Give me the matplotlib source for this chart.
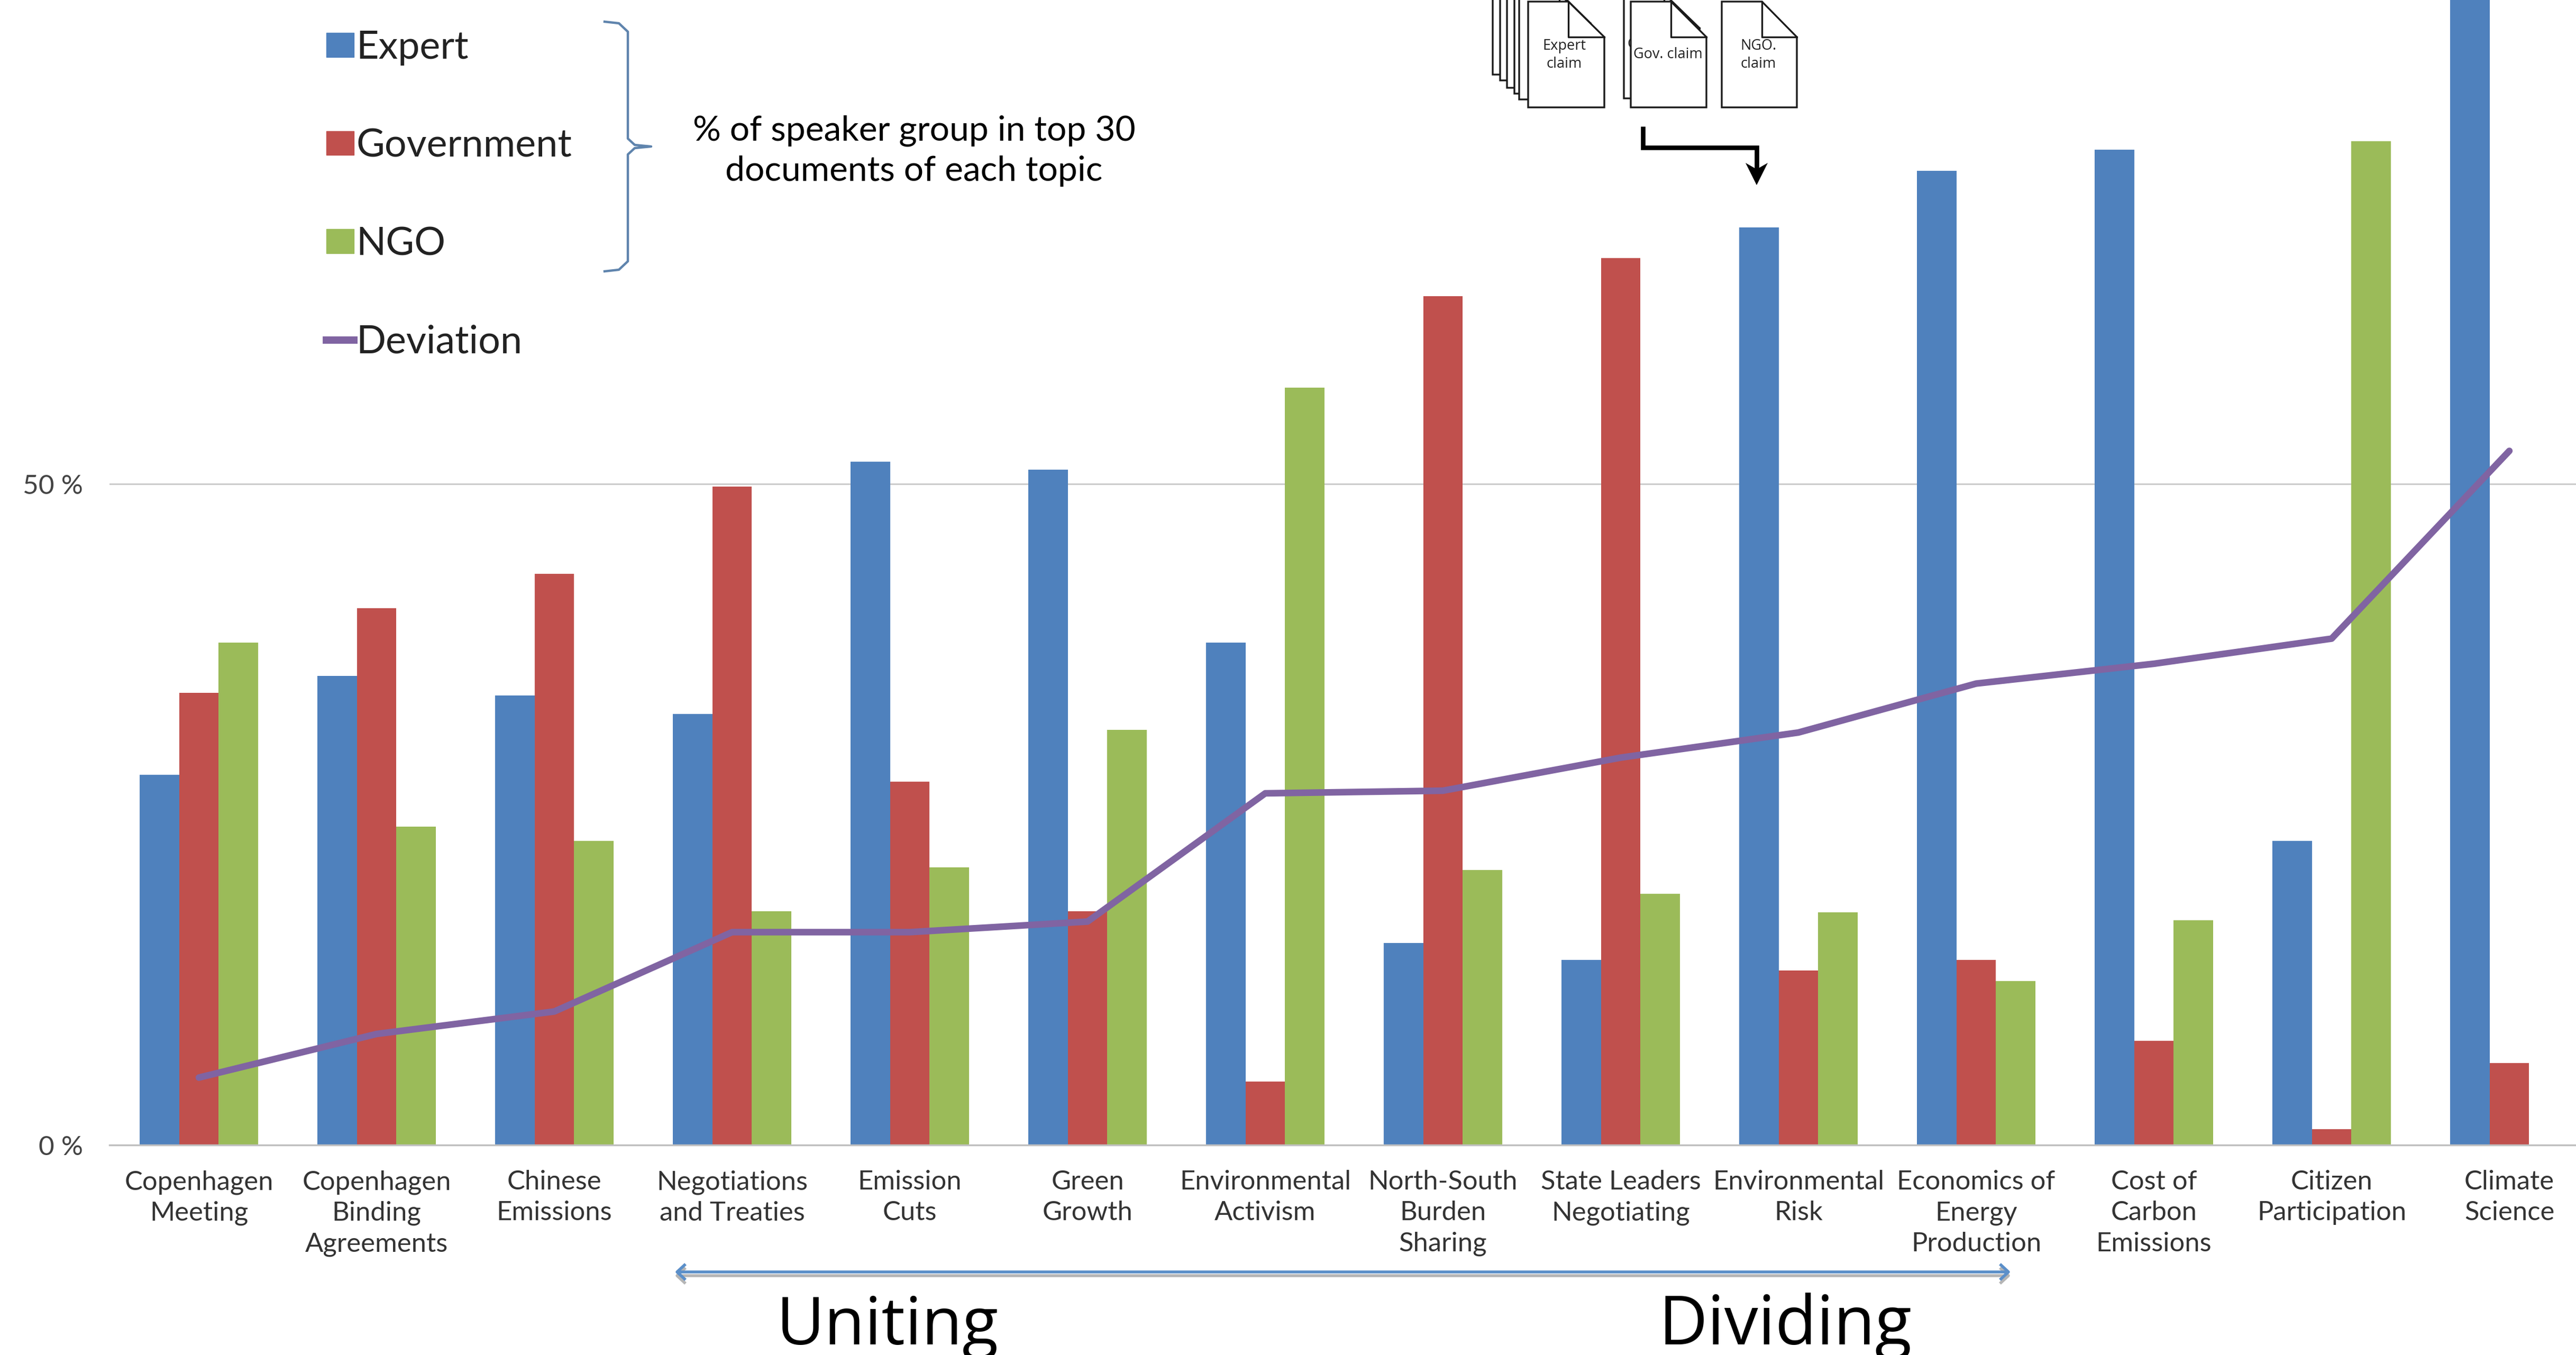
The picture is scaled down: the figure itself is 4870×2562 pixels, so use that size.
#!/usr/bin/env python3
# -*- coding: utf-8 -*-
"""
Speaker groups per topic, with the deviation between groups as a line.
"""

import numpy as np
import matplotlib
matplotlib.use('Agg')
import matplotlib.pyplot as plt
from matplotlib.lines import Line2D
from matplotlib.patches import Patch, Polygon

plt.rcParams['font.family'] = ['Lato', 'DejaVu Sans']

topics = ['Copenhagen\nMeeting', 'Copenhagen\nBinding\nAgreements', 'Chinese\nEmissions',
          'Negotiations\nand Treaties', 'Emission\nCuts', 'Green\nGrowth',
          'Environmental\nActivism', 'North-South\nBurden\nSharing', 'State Leaders\nNegotiating',
          'Environmental\nRisk', 'Economics of\nEnergy\nProduction', 'Cost of\nCarbon\nEmissions',
          'Citizen\nParticipation', 'Climate\nScience']

expert = [28.0, 35.5, 34.0, 32.6, 51.7, 51.1, 38.0, 15.3, 14.0, 69.4, 73.7, 75.3, 23.0, 90.0]
government = [34.2, 40.6, 43.2, 49.8, 27.5, 17.7, 4.8, 64.2, 67.1, 13.2, 14.0, 7.9, 1.2, 6.2]
ngo = [38.0, 24.1, 23.0, 17.7, 21.0, 31.4, 57.3, 20.8, 19.0, 17.6, 12.4, 17.0, 75.9, 0.0]
deviation = [5.1, 8.4, 10.1, 16.1, 16.1, 16.9, 26.6, 26.8, 29.3, 31.2, 34.9, 36.4, 38.3, 52.5]

y_ticks = [0, 50]
y_tick_labels = ['0 %', '50 %']

BLUE, RED, GREEN, PURPLE = '#4f81bd', '#c0504d', '#9bbb59', '#8064a2'
W, H = 4870, 2562


def px(x, y):
    # pixel position (origin top left) to figure fraction
    return x / W, 1 - y / H


def page(x0, x1, fold, y0=3, y1=203, fold_y=70, z=5):
    # a sheet of paper with a folded corner
    pts = [(x0, y0), (fold, y0), (x1, fold_y), (x1, y1), (x0, y1)]
    fig.add_artist(Polygon([px(*p) for p in pts], closed=True, transform=fig.transFigure,
                           fc='white', ec='#1a1a1a', lw=2.4, zorder=z, joinstyle='miter'))
    fig.add_artist(Line2D(*zip(*[px(fold, y0), px(fold, fold_y), px(x1, fold_y)]),
                          transform=fig.transFigure, color='#1a1a1a', lw=2.4, zorder=z))


fig = plt.figure(figsize=(W / 100, H / 100), dpi=100, facecolor='white')
left, bottom = px(207, 2165)
ax = fig.add_axes([left, bottom, 1 - left, 1 - bottom])

x = np.arange(len(topics))
bar_w = 0.2225
ax.bar(x - bar_w, expert, bar_w, color=BLUE, zorder=2)
ax.bar(x, government, bar_w, color=RED, zorder=2)
ax.bar(x + bar_w, ngo, bar_w, color=GREEN, zorder=2)
ax.plot(x, deviation, color=PURPLE, lw=9, zorder=3, solid_joinstyle='round', solid_capstyle='round')

ax.set_xlim((207 - 376) / 336, (W - 376) / 336)
ax.set_ylim(0, 2165 / 25)
ax.set_xticks(x)
ax.set_xticklabels(topics, fontsize=36.5, color='#333333', linespacing=1.33)
ax.set_yticks(y_ticks)
ax.set_yticklabels(y_tick_labels, fontsize=37, color='#444444')
ax.tick_params(axis='x', length=0, pad=34)
ax.tick_params(axis='y', length=0, pad=36)
ax.yaxis.grid(True, color='#c8c8c8', lw=2, zorder=0)
ax.set_axisbelow(True)
for side in ['top', 'right', 'left']:
    ax.spines[side].set_visible(False)
ax.spines['bottom'].set_color('#c0c0c0')
ax.spines['bottom'].set_linewidth(2.5)

handles = [Patch(color=BLUE, label='Expert'), Patch(color=RED, label='Government'),
           Patch(color=GREEN, label='NGO'),
           Line2D([0], [0], color=PURPLE, lw=10, label='Deviation')]
fig.legend(handles=handles, loc='upper left', bbox_to_anchor=px(617, 57), frameon=False,
           fontsize=53, labelcolor='#222222', handlelength=0.71, handleheight=0.58,
           handletextpad=0.06, labelspacing=1.61, borderpad=0, borderaxespad=0)

# brace around the three speaker groups
brace_x = [1143, 1170, 1187, 1187, 1200, 1231, 1200, 1187, 1187, 1170, 1143]
brace_y = [41, 44, 60, 262, 274, 277, 280, 292, 494, 510, 513]
bx, by = zip(*[px(a, b) for a, b in zip(brace_x, brace_y)])
fig.add_artist(Line2D(bx, by, transform=fig.transFigure, color='#5f84ad', lw=3.2))

fig.text(*px(1728, 285), '% of speaker group in top 30\ndocuments of each topic', ha='center',
         va='center', fontsize=47.5, color='black', linespacing=1.35)

# stack of claim documents
doc_font = ['Open Sans', 'DejaVu Sans']
for x0, y1 in [(2822, 141), (2836, 152), (2849, 166), (2863, 177), (2872, 188)]:
    page(x0, x0 + 144, x0 + 76, y0=y1 - 200, y1=y1, fold_y=y1 - 133)
page(2889, 3033, 2965)
page(3070, 3213, 3146, y0=-12, y1=186, fold_y=53)
fig.text(*px(3076, 84), 'G', fontsize=19.5, color='#222222', ha='left', va='center', zorder=5.5,
         family=doc_font)
page(3083, 3226, 3159, z=6)
page(3255, 3397, 3331)
fig.text(*px(2957, 104), 'Expert\nclaim', fontsize=19.5, color='#222222', ha='center', va='center',
         linespacing=1.3, family=doc_font, zorder=7)
fig.text(*px(3153, 103), 'Gov. claim', fontsize=19.5, color='#222222', ha='center', va='center',
         family=doc_font, zorder=7)
fig.text(*px(3324, 104), 'NGO.\nclaim', fontsize=19.5, color='#222222', ha='center', va='center',
         linespacing=1.3, family=doc_font, zorder=7)

# elbow arrow from the documents down to the bar
ex, ey = zip(*[px(3106, 239), px(3106, 279), px(3321, 279), px(3321, 320)])
fig.add_artist(Line2D(ex, ey, transform=fig.transFigure, color='black', lw=6.2,
                      solid_joinstyle='miter', solid_capstyle='butt'))
head = [(3300, 308), (3321, 320), (3342, 308), (3321, 350)]
fig.add_artist(Polygon([px(*p) for p in head], closed=True, transform=fig.transFigure,
                       fc='black', ec='none'))

# uniting / dividing scale
for col, off, z in [('#b5b5b5', 7, 1), ('#5b8fc9', 0, 2)]:
    fig.add_artist(Line2D(*zip(px(1282, 2405 + off), px(3795, 2405 + off)),
                          transform=fig.transFigure, color=col, lw=4, zorder=z))
    for tip, sign in [(1280, 1), (3797, -1)]:
        ax_, ay_ = zip(px(tip + sign * 14, 2392 + off), px(tip, 2405 + off), px(tip + sign * 14, 2418 + off))
        fig.add_artist(Line2D(ax_, ay_, transform=fig.transFigure, color=col, lw=4, zorder=z))

scale_font = ['Open Sans', 'DejaVu Sans']
fig.text(*px(1468, 2542), 'Uniting', fontsize=90, color='black', va='baseline', family=scale_font)
fig.text(*px(3136, 2542), 'Dividing', fontsize=92, color='black', va='baseline', family=scale_font)

fig.savefig('out.png', dpi=100, facecolor='white')
